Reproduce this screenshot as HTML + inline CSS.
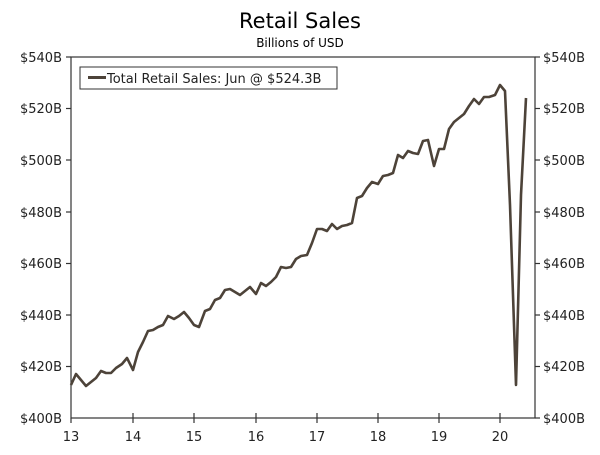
<!DOCTYPE html>
<html><head><meta charset="utf-8"><style>
body{margin:0;background:#fff;}
svg{display:block;font-family:"DejaVu Sans","Liberation Sans",sans-serif;}
</style></head><body>
<svg width="600" height="455" viewBox="0 0 600 455">
<text x="300" y="28" font-size="21" text-anchor="middle" fill="#000">Retail Sales</text>
<text x="300" y="47" font-size="12" text-anchor="middle" fill="#000">Billions of USD</text>
<rect x="71" y="57" width="464" height="361" fill="none" stroke="#333" stroke-width="1.2"/>
<g stroke="#333" stroke-width="1.2">
<line x1="66" y1="57" x2="71" y2="57"/><line x1="66" y1="108.5" x2="71" y2="108.5"/><line x1="66" y1="160" x2="71" y2="160"/><line x1="66" y1="212" x2="71" y2="212"/><line x1="66" y1="263.5" x2="71" y2="263.5"/><line x1="66" y1="315" x2="71" y2="315"/><line x1="66" y1="366.5" x2="71" y2="366.5"/>
<line x1="535" y1="57" x2="540" y2="57"/><line x1="535" y1="108.5" x2="540" y2="108.5"/><line x1="535" y1="160" x2="540" y2="160"/><line x1="535" y1="212" x2="540" y2="212"/><line x1="535" y1="263.5" x2="540" y2="263.5"/><line x1="535" y1="315" x2="540" y2="315"/><line x1="535" y1="366.5" x2="540" y2="366.5"/><line x1="535" y1="418" x2="540" y2="418"/>
<line x1="71" y1="418" x2="71" y2="423"/><line x1="133" y1="413" x2="133" y2="423"/><line x1="194" y1="413" x2="194" y2="423"/><line x1="256" y1="413" x2="256" y2="423"/><line x1="317" y1="413" x2="317" y2="423"/><line x1="378" y1="413" x2="378" y2="423"/><line x1="439" y1="413" x2="439" y2="423"/><line x1="500" y1="413" x2="500" y2="423"/>
</g>
<g font-size="13" fill="#222" text-anchor="end">
<text x="62" y="62">$540B</text><text x="62" y="113">$520B</text><text x="62" y="165">$500B</text><text x="62" y="217">$480B</text><text x="62" y="268">$460B</text><text x="62" y="320">$440B</text><text x="62" y="371">$420B</text><text x="62" y="423">$400B</text>
</g>
<g font-size="13" fill="#222">
<text x="543" y="62">$540B</text><text x="543" y="113">$520B</text><text x="543" y="165">$500B</text><text x="543" y="217">$480B</text><text x="543" y="268">$460B</text><text x="543" y="320">$440B</text><text x="543" y="371">$420B</text><text x="543" y="423">$400B</text>
</g>
<g font-size="13" fill="#222" text-anchor="middle">
<text x="71" y="441">13</text><text x="133" y="441">14</text><text x="194" y="441">15</text><text x="256" y="441">16</text><text x="317" y="441">17</text><text x="378" y="441">18</text><text x="439" y="441">19</text><text x="500" y="441">20</text>
</g>
<rect x="80" y="67" width="257" height="22" fill="#fff" stroke="#333" stroke-width="1"/>
<line x1="88" y1="77.5" x2="106" y2="77.5" stroke="#4d4339" stroke-width="3"/>
<text x="107" y="83" font-size="13" fill="#222">Total Retail Sales: Jun @ $524.3B</text>
<polyline fill="none" stroke="#4d4339" stroke-width="2.6" stroke-linejoin="round" points="71,385 76,374 81,380 86,386 91,382 96,378 101,371 106,373 111,373 116,368 122,364 127,358 133,370 138,352 143,342 148,331 153,330 158,327 163,325 168,316 174,319 179,316 184,312 189,318 194,325 199,327 205,311 210,309 215,300 220,298 225,290 230,289 235,292 240,295 245,291 250,287 256,294 261,283 266,286 271,282 276,277 281,267 286,268 291,267 296,259 301,256 307,255 312,243 317,229 322,229 327,231 332,224 337,229 342,226 347,225 352,223 357,198 362,196 367,188 372,182 378,184 383,176 388,175 393,173 398,155 403,158 408,151 413,153 418,154 423,141 428,140 434,166 439,149 444,149 449,129 454,122 459,118 464,114 469,106 474,99 479,104 484,97 489,97 495,95 500,85 505,91 510,205 516,385 521,195 526,98"/>
</svg>
</body></html>
